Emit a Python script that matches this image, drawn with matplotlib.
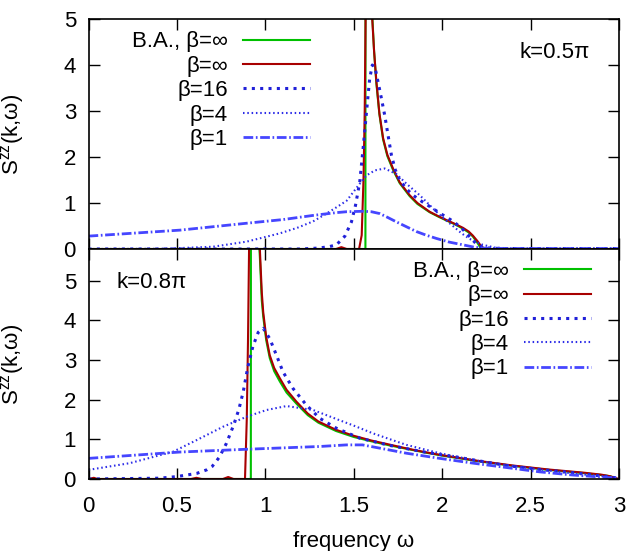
import matplotlib
matplotlib.use("Agg")
import matplotlib.pyplot as plt
from matplotlib.lines import Line2D

plt.rcParams['font.family'] = ['Liberation Sans', 'DejaVu Sans']
plt.rcParams['mathtext.fontset'] = 'custom'
plt.rcParams['mathtext.rm'] = 'Liberation Sans'
plt.rcParams['lines.scale_dashes'] = False

# ---------------- data: k = 0.5 pi (top panel) ----------------
top_ba_w = [0.0, 1.566, 1.567, 1.59, 1.603, 1.615, 1.628, 1.645, 1.666, 1.69, 1.722, 1.76, 1.816, 1.86, 1.929, 1.98, 2.024, 2.07, 2.118, 2.15, 2.174, 2.20, 2.221, 3.0]
top_ba_s = [0.0, 0.0, 12.0, 6.2, 5.2, 4.3, 3.60, 2.93, 2.38, 2.02, 1.72, 1.43, 1.15, 0.98, 0.80, 0.70, 0.62, 0.54, 0.44, 0.36, 0.27, 0.13, 0.0, 0.0]

top_inf_w = [0.0, 1.40, 1.43, 1.46, 1.53, 1.545, 1.555, 1.562, 1.567, 1.58, 1.603, 1.615, 1.628, 1.645, 1.666, 1.69, 1.722, 1.76, 1.816, 1.86, 1.929, 1.98, 2.024, 2.07, 2.118, 2.15, 2.174, 2.20, 2.215, 2.231, 2.25, 3.0]
top_inf_s = [0.0, 0.0, 0.04, 0.0, 0.0, 0.3, 1.5, 3.0, 5.0, 9.0, 5.1, 4.3, 3.64, 2.95, 2.41, 2.05, 1.75, 1.45, 1.17, 1.00, 0.81, 0.71, 0.63, 0.55, 0.46, 0.38, 0.29, 0.17, 0.09, 0.03, 0.0, 0.0]

top_b16_w = [0.0, 1.20, 1.30, 1.36, 1.402, 1.45, 1.487, 1.51, 1.534, 1.553, 1.575, 1.59, 1.605, 1.62, 1.637, 1.655, 1.675, 1.695, 1.713, 1.735, 1.76, 1.80, 1.835, 1.89, 1.948, 1.986, 2.03, 2.07, 2.118, 2.16, 2.193, 2.22, 2.26, 2.35, 3.0]
top_b16_s = [0.0, 0.0, 0.02, 0.05, 0.09, 0.28, 0.59, 0.95, 1.46, 2.19, 3.1, 3.7, 4.0, 3.95, 3.64, 3.3, 2.91, 2.45, 2.04, 1.72, 1.50, 1.30, 1.17, 1.02, 0.88, 0.78, 0.68, 0.58, 0.42, 0.25, 0.11, 0.05, 0.02, 0.01, 0.01]

top_b4_w = [0.0, 0.40, 0.52, 0.705, 0.894, 1.082, 1.18, 1.27, 1.35, 1.42, 1.46, 1.50, 1.534, 1.572, 1.62, 1.675, 1.741, 1.798, 1.873, 1.92, 1.967, 2.01, 2.061, 2.11, 2.155, 2.23, 2.30, 2.40, 3.0]
top_b4_s = [0.0, 0.005, 0.02, 0.05, 0.16, 0.34, 0.46, 0.60, 0.78, 0.95, 1.05, 1.25, 1.42, 1.60, 1.71, 1.75, 1.63, 1.42, 1.17, 0.99, 0.81, 0.66, 0.50, 0.34, 0.22, 0.09, 0.03, 0.01, 0.01]

top_b1_w = [0.0, 0.517, 0.894, 1.10, 1.27, 1.40, 1.459, 1.553, 1.60, 1.647, 1.69, 1.741, 1.80, 1.854, 1.91, 1.967, 2.04, 2.118, 2.18, 2.23, 2.35, 3.0]
top_b1_s = [0.28, 0.41, 0.56, 0.64, 0.73, 0.79, 0.81, 0.82, 0.81, 0.77, 0.69, 0.59, 0.48, 0.38, 0.30, 0.23, 0.15, 0.09, 0.04, 0.02, 0.01, 0.01]

# ---------------- data: k = 0.8 pi (bottom panel) ----------------
bot_ba_w = [0.0, 0.918, 0.919, 0.94, 0.969, 0.98, 0.988, 1.005, 1.025, 1.05, 1.082, 1.12, 1.176, 1.24, 1.30, 1.40, 1.50, 1.60, 1.70, 1.80, 1.90, 2.0, 2.2, 2.4, 2.6, 2.8, 2.9, 2.95, 2.988, 3.0]
bot_ba_s = [0.0, 0.0, 14.0, 8.0, 5.6, 4.5, 4.10, 3.5, 3.05, 2.72, 2.46, 2.18, 1.90, 1.61, 1.42, 1.21, 1.06, 0.95, 0.85, 0.76, 0.67, 0.59, 0.45, 0.33, 0.23, 0.15, 0.10, 0.07, 0.0, 0.0]

bot_inf_w = [0.0, 0.03, 0.05, 0.08, 0.58, 0.61, 0.64, 0.76, 0.79, 0.82, 0.885, 0.895, 0.902, 0.908, 0.93, 0.95, 0.969, 0.98, 0.988, 1.005, 1.025, 1.05, 1.082, 1.12, 1.176, 1.24, 1.30, 1.40, 1.50, 1.60, 1.70, 1.80, 1.90, 2.0, 2.2, 2.4, 2.6, 2.8, 2.9, 2.95, 2.984, 3.0]
bot_inf_s = [0.0, 0.03, 0.0, 0.0, 0.0, 0.03, 0.0, 0.0, 0.05, 0.0, 0.0, 1.5, 3.5, 5.8, 12.0, 8.0, 5.8, 4.7, 4.21, 3.58, 3.12, 2.80, 2.54, 2.25, 1.95, 1.65, 1.45, 1.24, 1.09, 0.97, 0.87, 0.77, 0.68, 0.60, 0.46, 0.34, 0.24, 0.16, 0.11, 0.07, 0.02, 0.0]

bot_b16_w = [0.0, 0.40, 0.498, 0.611, 0.668, 0.70, 0.74, 0.78, 0.82, 0.85, 0.875, 0.90, 0.93, 0.96, 0.988, 1.025, 1.063, 1.10, 1.157, 1.233, 1.308, 1.402, 1.534, 1.70, 1.90, 2.10, 2.363, 2.551, 2.739, 2.93, 3.0]
bot_b16_s = [0.0, 0.02, 0.06, 0.14, 0.23, 0.32, 0.55, 0.90, 1.35, 1.75, 2.2, 2.8, 3.35, 3.7, 3.8, 3.54, 3.12, 2.70, 2.28, 1.86, 1.53, 1.28, 1.03, 0.85, 0.68, 0.54, 0.34, 0.24, 0.16, 0.06, 0.02]

bot_b4_w = [0.0, 0.234, 0.479, 0.611, 0.762, 0.894, 1.007, 1.12, 1.27, 1.421, 1.515, 1.609, 1.798, 1.986, 2.174, 2.363, 2.551, 2.739, 2.93, 3.0]
bot_b4_s = [0.23, 0.40, 0.69, 0.98, 1.32, 1.57, 1.74, 1.84, 1.74, 1.48, 1.32, 1.15, 0.86, 0.65, 0.48, 0.35, 0.24, 0.14, 0.06, 0.03]

bot_b1_w = [0.0, 0.517, 0.894, 1.308, 1.459, 1.55, 1.609, 1.798, 1.986, 2.174, 2.363, 2.551, 2.739, 2.93, 3.0]
bot_b1_s = [0.52, 0.68, 0.75, 0.82, 0.86, 0.86, 0.81, 0.65, 0.52, 0.40, 0.29, 0.18, 0.10, 0.04, 0.02]

labels = ['B.A., β=∞', 'β=∞', 'β=16', 'β=4', 'β=1']
xticks = [0, 0.5, 1, 1.5, 2, 2.5, 3]
xticklabels = ['0', '0.5', '1', '1.5', '2', '2.5', '3']
yticks = [0, 1, 2, 3, 4, 5]

C_GREEN = '#00c000'
C_RED = '#a80000'
C_B16 = '#2020d8'
C_B4 = '#2c2ce8'
C_B1 = '#4646ff'

styles = [
    dict(color=C_GREEN, lw=1.5, ls='-'),
    dict(color=C_RED, lw=1.5, ls='-'),
    dict(color=C_B16, lw=2.2, ls=(0, (2.2, 3.8))),
    dict(color=C_B4, lw=1.5, ls=(0, (1.1, 2.0))),
    dict(color=C_B1, lw=2.0, ls=(0, (7.0, 1.9, 1.2, 1.9))),
]

FS = 16
fig = plt.figure(figsize=(6.31, 5.51), dpi=100)
W, H = 631, 551
left = 88.5 / W
width = (619 - 88.5) / W
ax1 = fig.add_axes([left, 1 - 249 / H, width, 230 / H])
ax2 = fig.add_axes([left, 1 - 479 / H, width, 230 / H])

top_data = [(top_ba_w, top_ba_s), (top_inf_w, top_inf_s), (top_b16_w, top_b16_s),
            (top_b4_w, top_b4_s), (top_b1_w, top_b1_s)]
bot_data = [(bot_ba_w, bot_ba_s), (bot_inf_w, bot_inf_s), (bot_b16_w, bot_b16_s),
            (bot_b4_w, bot_b4_s), (bot_b1_w, bot_b1_s)]

for ax, data in [(ax1, top_data), (ax2, bot_data)]:
    for i in range(5):
        w, s = data[i]
        ax.plot(w, s, label=labels[i], **styles[i])
    ax.set_xlim(0, 3)
    ax.set_xticks(xticks)
    ax.set_yticks(yticks)
    ax.set_yticklabels([str(v) for v in yticks])
    ax.tick_params(direction='in', length=8, width=1, top=True, right=True,
                   labelsize=FS)
    ax.tick_params(axis='y', pad=9)
    ax.tick_params(axis='x', pad=12)
    for sp in ax.spines.values():
        sp.set_linewidth(1.2)
    ax.set_ylabel('S$^{\\mathregular{zz}}$(k,ω)', fontsize=FS)
    ax.yaxis.set_label_coords(-0.118, 0.5)

ax1.set_ylim(0, 5)
ax2.set_ylim(0, 5.8)
ax1.set_xticklabels([])
ax2.set_xticklabels(xticklabels)
ax2.set_xlabel('frequency ω', fontsize=FS, labelpad=10)

ax1.text(0.945, 0.855, 'k=0.5π', transform=ax1.transAxes, ha='right', va='center', fontsize=FS)
ax2.text(0.052, 0.855, 'k=0.8π', transform=ax2.transAxes, ha='left', va='center', fontsize=FS)

handles = [Line2D([], [], **styles[i]) for i in range(5)]
for ax, anchor in [(ax1, (310 / W, 1 - 31.5 / H)), (ax2, (591 / W, 1 - 261 / H))]:
    ax.legend(handles, labels, loc='upper right', bbox_to_anchor=anchor,
              bbox_transform=fig.transFigure, frameon=False, markerfirst=False,
              fontsize=FS, handlelength=3.0, handletextpad=0.7, labelspacing=0.15,
              borderpad=0, borderaxespad=0)

fig.savefig('out.png', dpi=100)
